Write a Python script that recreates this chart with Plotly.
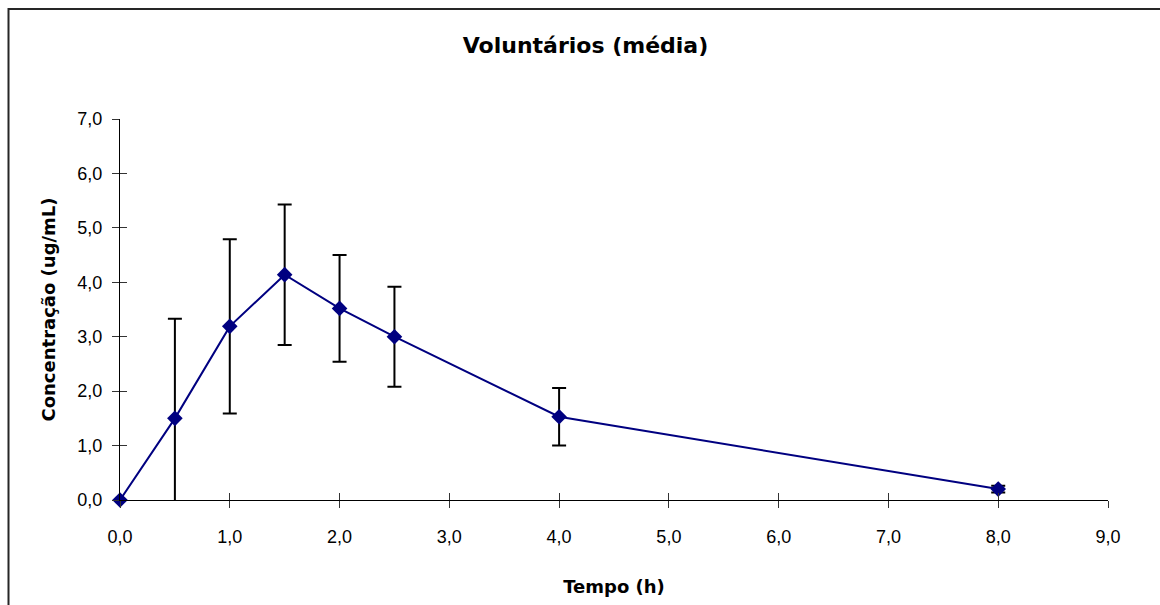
import plotly.graph_objects as go

# Data
tempo_h = [0.0, 0.5, 1.0, 1.5, 2.0, 2.5, 4.0, 8.0]
conc_media = [0.0, 1.50, 3.19, 4.14, 3.52, 3.00, 1.53, 0.20]
conc_dp = [0.0, 1.83, 1.60, 1.29, 0.98, 0.92, 0.53, 0.06]

x_ticks = [0, 1, 2, 3, 4, 5, 6, 7, 8, 9]
y_ticks = [0, 1, 2, 3, 4, 5, 6, 7]

title_text = "Voluntários (média)"
x_title = "Tempo (h)"
y_title = "Concentração (ug/mL)"

NAVY = "#000080"
FONT = "DejaVu Sans, Arial, sans-serif"
TICKFONT = "Liberation Sans, Arial, sans-serif"

W, H = 1160, 605
ML, MR, MT, MB = 120, 52, 119, 105
PW, PH = W - ML - MR, H - MT - MB

fig = go.Figure()

# error bars (clipped to plot area)
fig.add_trace(go.Scatter(
    x=tempo_h, y=conc_media, mode="markers",
    marker=dict(size=1, color="rgba(0,0,0,0)"),
    error_y=dict(type="data", array=conc_dp, visible=True,
                 color="black", thickness=2, width=7),
    cliponaxis=True, showlegend=False, hoverinfo="skip",
))

# mean line + markers
fig.add_trace(go.Scatter(
    x=tempo_h, y=conc_media, mode="lines+markers",
    line=dict(color=NAVY, width=2),
    marker=dict(symbol="diamond", size=12, color=NAVY),
    cliponaxis=False, showlegend=False,
))

# empty trace on overlay axes for crossing (inside) ticks
fig.add_trace(go.Scatter(x=[], y=[], xaxis="x2", yaxis="y2", showlegend=False))

tickfont = dict(family=TICKFONT, size=18, color="black")

fig.update_layout(
    width=W, height=H,
    margin=dict(l=ML, r=MR, t=MT, b=MB),
    paper_bgcolor="white", plot_bgcolor="white",
    separators=",.",
    title=dict(text=title_text, font=dict(family=FONT, size=22, color="black", weight="bold"),
               xref="container", yref="container", x=585.5 / W, y=1 - 45 / H,
               xanchor="center", yanchor="middle"),
    xaxis=dict(range=[0, 9], tickvals=x_ticks, tickformat=".1f",
               showgrid=False, zeroline=False, showline=True, linecolor="black", linewidth=1,
               ticks="outside", ticklen=7, tickcolor="#333", tickwidth=1,
               tickfont=tickfont, ticklabelstandoff=13, automargin=False,
               title=dict(text=x_title, font=dict(family=FONT, size=18, color="black", weight="bold"),
                          standoff=34)),
    yaxis=dict(range=[0, 7], tickvals=y_ticks, tickformat=".1f",
               showgrid=False, zeroline=False, showline=True, linecolor="black", linewidth=1,
               ticks="outside", ticklen=7, tickcolor="#333", tickwidth=1,
               tickfont=tickfont, ticklabelstandoff=6, automargin=False,
               title=dict(text=y_title, font=dict(family=FONT, size=18, color="black", weight="bold"),
                          standoff=17)),
    xaxis2=dict(range=[0, 9], tickvals=x_ticks, overlaying="x", anchor="y2",
                showticklabels=False, showgrid=False, zeroline=False, showline=False,
                ticks="inside", ticklen=7, tickcolor="#333", tickwidth=1),
    yaxis2=dict(range=[0, 7], tickvals=y_ticks, overlaying="y", anchor="x2",
                showticklabels=False, showgrid=False, zeroline=False, showline=False,
                ticks="inside", ticklen=7, tickcolor="#333", tickwidth=1),
)

# outer chart frame (top and left edges visible in the reference)
fig.add_shape(type="rect", xref="paper", yref="paper",
              x0=(8.5 - ML) / PW, x1=(W + 20 - ML) / PW,
              y0=(PH + MT - (H + 20)) / PH, y1=(PH + MT - 9) / PH,
              line=dict(color="#262626", width=2), fillcolor="rgba(0,0,0,0)", layer="below")

fig.write_html("out.html")
